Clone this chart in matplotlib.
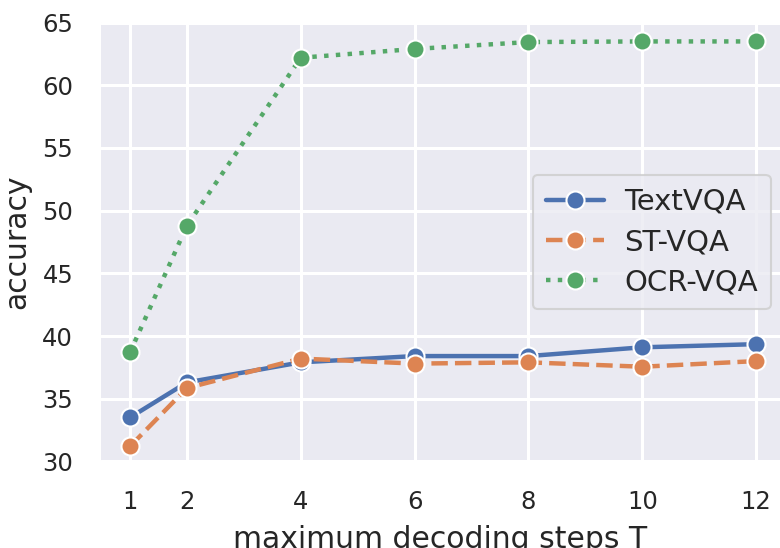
import matplotlib
matplotlib.use("Agg")
import matplotlib.pyplot as plt
import seaborn as sns

steps = [1, 2, 4, 6, 8, 10, 12]
textvqa = [33.5, 36.3, 37.9, 38.4, 38.4, 39.1, 39.35]
stvqa = [31.2, 35.85, 38.2, 37.8, 37.9, 37.55, 38.0]
ocrvqa = [38.7, 48.8, 62.2, 62.9, 63.45, 63.5, 63.5]
series_names = ["TextVQA", "ST-VQA", "OCR-VQA"]
yticks = [30, 35, 40, 45, 50, 55, 60, 65]

sns.set_theme(style="darkgrid")
plt.rcParams['font.family'] = ['DejaVu Sans']

fig = plt.figure(figsize=(7.8, 5.48), dpi=100)
ax = fig.add_axes([101/780, 1 - 462/548, 679/780, 440/548])

colors = sns.color_palette("deep")
styles = ['-', '--', ':']
for vals, name, c, ls in zip([textvqa, stvqa, ocrvqa], series_names, colors, styles):
    ax.plot(steps, vals, linestyle=ls, color=c, lw=3.2, marker='o', markersize=13,
            markeredgecolor='white', markeredgewidth=1.5, label=name)

ax.set_xlim(0.49, 12.42)
ax.set_ylim(29.95, 65.05)
ax.set_xticks(steps)
ax.set_yticks(yticks)
ax.grid(True, color='white', linewidth=2.2)
ax.tick_params(axis='both', labelsize=17.5, pad=20, length=0)
ax.set_xlabel("maximum decoding steps T", fontsize=21.5, labelpad=8)
ax.set_ylabel("accuracy", fontsize=21.5, labelpad=8)
for s in ax.spines.values():
    s.set_visible(False)

leg = ax.legend(loc='center right', fontsize=21, handlelength=2.0, handletextpad=0.7,
                borderaxespad=0.3, borderpad=0.45, labelspacing=0.42)
leg.get_frame().set_linewidth(1.5)

fig.savefig("out.png", dpi=100)
